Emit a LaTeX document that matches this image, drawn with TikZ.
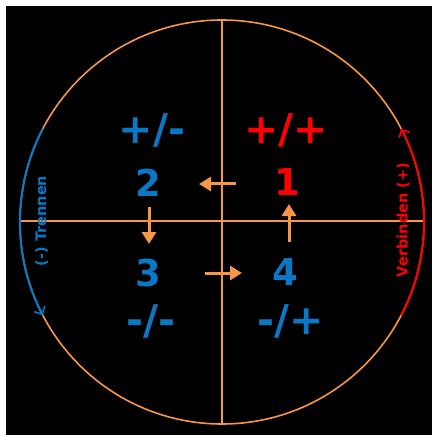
\documentclass[tikz,border=0pt]{standalone}
\usepackage{fontspec}
\setmainfont{DejaVu Sans}
\usetikzlibrary{arrows.meta}
\definecolor{cOrange}{HTML}{F79646}
\definecolor{cBlue}{RGB}{10,120,196}
\definecolor{cRed}{HTML}{FF0000}
\tikzset{
  x=1pt, y=1pt,
  axis/.style={draw=cOrange, line width=1.6pt},
  flow/.style={draw=cOrange, line width=3pt, -{Triangle[length=12pt,width=14pt]}},
  arcline/.style={line width=2pt, -{Straight Barb[length=6pt,width=12pt,line width=1.6pt]}},
  big/.style={font=\fontsize{37}{40}\selectfont\bfseries, inner sep=0pt},
  sign/.style={font=\fontsize{41}{44}\selectfont\bfseries, inner sep=0pt},
  side/.style={font=\fontsize{14.5}{16}\selectfont\bfseries, inner sep=0pt, rotate=90},
}
\begin{document}
\begin{tikzpicture}
\useasboundingbox (0,0) rectangle (432,-435);
\fill[white] (0,0) rectangle (432,-435);
\fill[black] (6,-6) rectangle (432,-435);
\coordinate (O) at (222,-222);
% circle and axes
\draw[axis] (O) circle[radius=202];
\coordinate (L) at (20,-221);
\coordinate (R) at (424,-221);
\coordinate (T) at (222,-20);
\coordinate (B) at (222,-424);
\draw[axis] (L) -- (R);
\draw[axis] (T) -- (B);
% coloured arcs
\draw[arcline, cBlue] ([shift={(152.5:202)}]O) arc[start angle=152.5, end angle=207.5, radius=202];
\draw[arcline, cRed] ([shift={(-27.5:202)}]O) arc[start angle=-27.5, end angle=27.5, radius=202];
% side labels
\node[side, text=cBlue] (trennen) at (41.5,-221) {(-) Trennen};
\node[side, text=cRed] (verbinden) at (403,-220) {Verbinden (+)};
% numbers
\node[big, text=cRed] (n1) at (287,-182) {1};
\node[big, text=cBlue] (n2) at (148,-183) {2};
\node[big, text=cBlue] (n3) at (148,-273) {3};
\node[big, text=cBlue] (n4) at (285,-272) {4};
% sign labels
\node[sign, text=cBlue] (s2) at (152,-130) {+/-};
\node[sign, text=cRed] (s1) at (286,-130) {+/+};
\node[sign, text=cBlue] (s3) at (151,-321) {-/-};
\node[sign, text=cBlue] (s4) at (291,-321) {-/+};
% flow arrows
\coordinate (a12s) at (236,-184);
\coordinate (a12e) at (199,-184);
\coordinate (a23s) at (149,-207);
\coordinate (a23e) at (149,-244);
\coordinate (a34s) at (205,-273);
\coordinate (a34e) at (242,-273);
\coordinate (a41s) at (289,-242);
\coordinate (a41e) at (289,-204);
\draw[flow] (a12s) -- (a12e);
\draw[flow] (a23s) -- (a23e);
\draw[flow] (a34s) -- (a34e);
\draw[flow] (a41s) -- (a41e);
\end{tikzpicture}
\end{document}
